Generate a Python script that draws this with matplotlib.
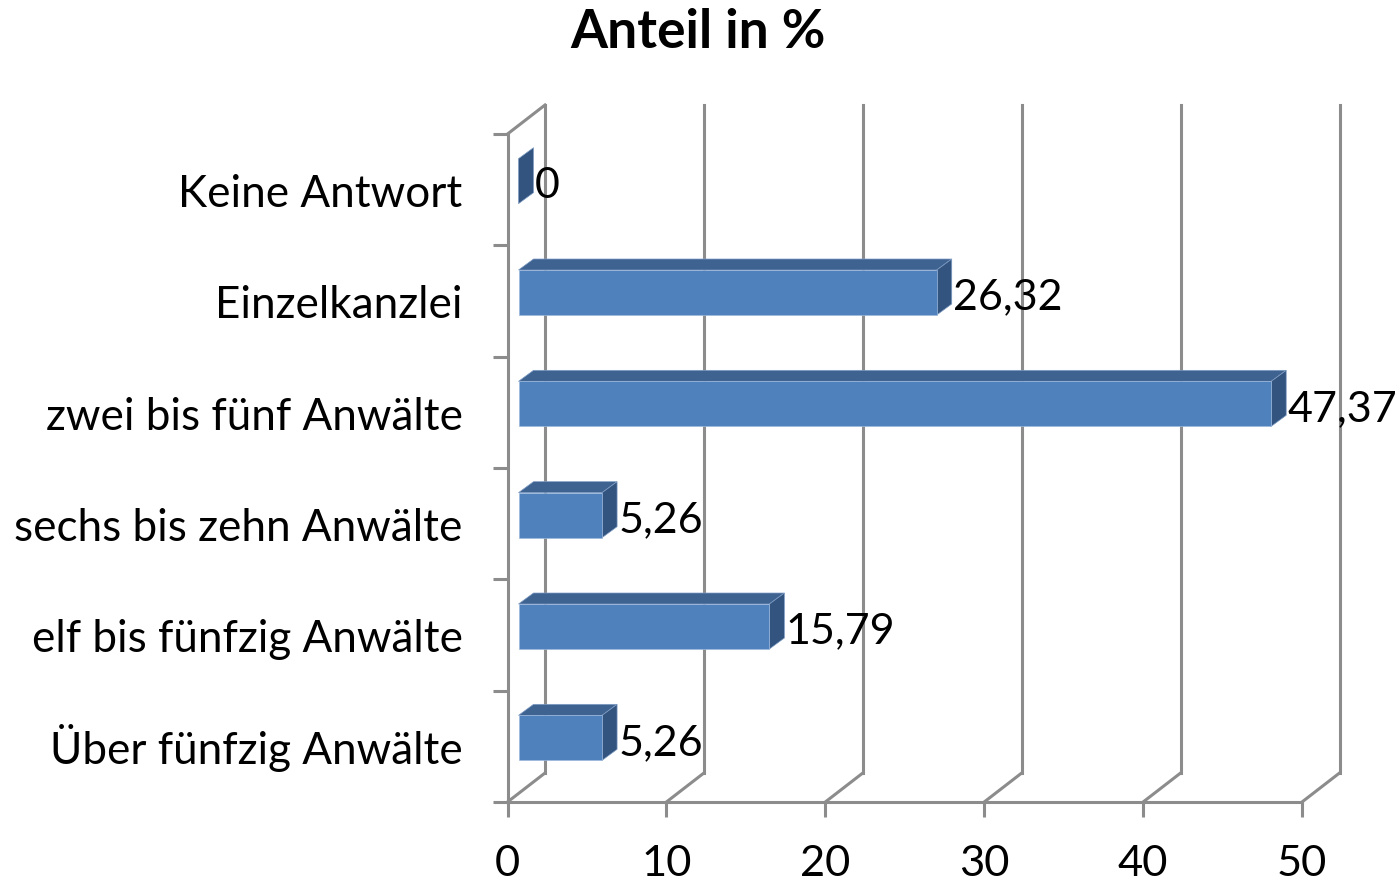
import matplotlib
matplotlib.use("Agg")
import matplotlib.pyplot as plt
from matplotlib.transforms import Affine2D

categories = ["Keine Antwort", "Einzelkanzlei", "zwei bis fünf Anwälte",
              "sechs bis zehn Anwälte", "elf bis fünfzig Anwälte", "Über fünfzig Anwälte"]
values = [0, 26.32, 47.37, 5.26, 15.79, 5.26]
value_labels = ["0", "26,32", "47,37", "5,26", "15,79", "5,26"]
x_ticks = [0, 10, 20, 30, 40, 50]

plt.rcParams["font.family"] = ["Lato", "DejaVu Sans"]

GREY = "#8c8c8c"
W, H = 1400, 885

fig = plt.figure(figsize=(W / 100, H / 100), dpi=100)
ax = fig.add_axes([507.5 / W, (H - 802) / H, 794.5 / W, 668 / H])
ax.set_xlim(0, 50)
ax.set_ylim(6, 0)


def shift(dx, dy):
    # offset in pixels, for the fake 3d look
    return ax.transData + Affine2D().translate(dx, dy)


# back wall and floor
wall = shift(37.5, 29)
for t in x_ticks:
    ax.plot([t, t], [0, 6], color=GREY, lw=2.2, transform=wall, clip_on=False, zorder=1)
    x0, y0 = ax.transData.transform((t, 6))
    ax.plot([x0, x0 + 37.5], [y0, y0 + 29], color=GREY, lw=2.2, transform=None, clip_on=False, zorder=1)
x0, y0 = ax.transData.transform((0, 0))
ax.plot([x0, x0 + 37.5], [y0, y0 + 29], color=GREY, lw=2.2, transform=None, clip_on=False, zorder=1)

# bars: front, top and side face
bar_h = 45 / (668 / 6)
front = shift(11, 8.5)
back = shift(26, 19.5)
centers = [i + 0.5 for i in range(len(categories))]
for y, v, lab, cat in zip(centers, values, value_labels, categories):
    y1 = y - bar_h / 2
    y2 = y + bar_h / 2
    if v > 0:
        p1 = front.transform([(0, y1), (v, y1)])
        p2 = back.transform([(v, y1), (0, y1)])
        ax.fill([p[0] for p in list(p1) + list(p2)], [p[1] for p in list(p1) + list(p2)],
                fc="#3f6391", ec="#7f9cc4", lw=0.5, transform=None, clip_on=False, zorder=3)
        ax.barh(y, v, height=bar_h, color="#4f81bd", edgecolor="#9db8db", linewidth=0.5,
                transform=front, clip_on=False, zorder=4)
    p1 = front.transform([(v, y1), (v, y2)])
    p2 = back.transform([(v, y2), (v, y1)])
    ax.fill([p[0] for p in list(p1) + list(p2)], [p[1] for p in list(p1) + list(p2)],
            fc="#32547f", ec="#7f9cc4", lw=0.5, transform=None, clip_on=False, zorder=3)
    ax.text(v, y, lab, fontsize=31, color="black", va="center", ha="left", clip_on=False,
            transform=shift(27.5, 3.5), zorder=5)
    ax.text(0, y, cat, fontsize=31.7, color="black", va="baseline", ha="right", clip_on=False,
            transform=shift(-45, -17.5), zorder=5)

ax.set_xticks(x_ticks)
ax.set_yticks(range(7))
ax.set_yticklabels([])
ax.tick_params(axis="both", which="major", direction="out", length=10.5, width=2.2, color=GREY)
ax.tick_params(axis="x", labelsize=31.3, pad=20.5)

for s in ["top", "right"]:
    ax.spines[s].set_visible(False)
for s in ["left", "bottom"]:
    ax.spines[s].set_color(GREY)
    ax.spines[s].set_linewidth(2.2)

fig.text(698 / W, 1 - 32 / H, "Anteil in %", fontsize=38.4, fontweight="bold", ha="center", va="center")

fig.savefig("out.png", dpi=100)
